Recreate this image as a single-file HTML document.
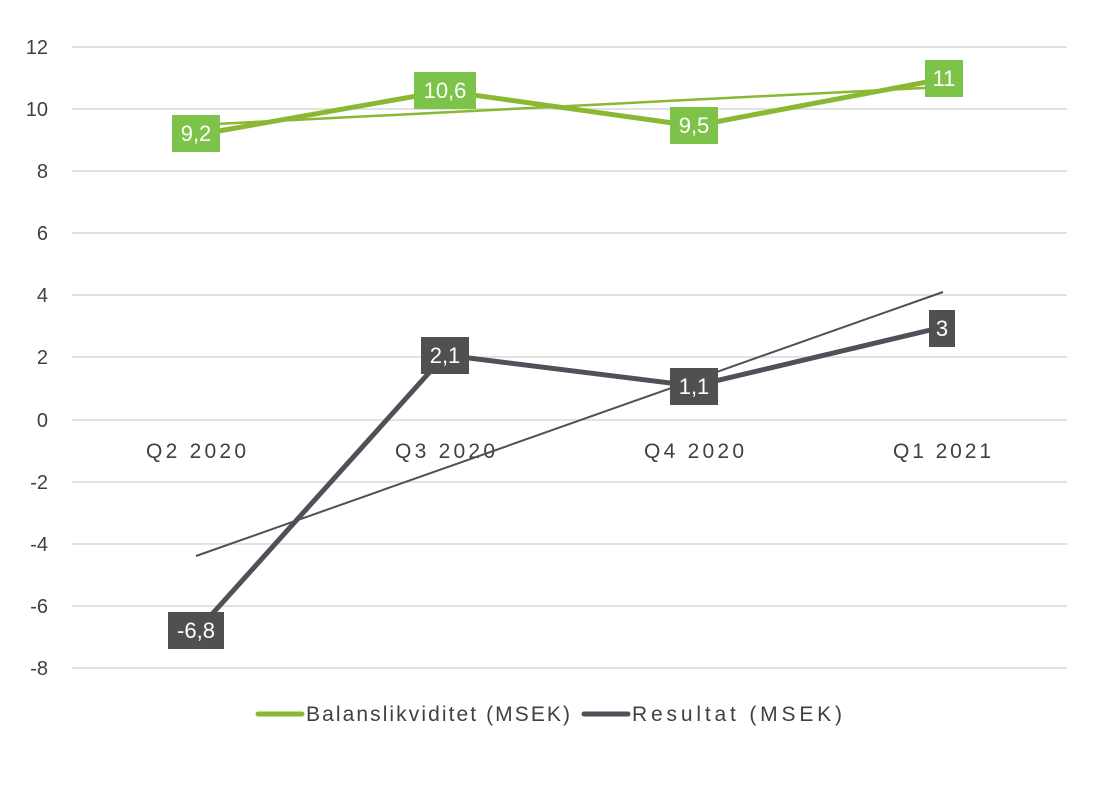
<!DOCTYPE html>
<html><head><meta charset="utf-8"><style>body{margin:0;background:#fff}</style></head><body>
<svg width="1098" height="784" xmlns="http://www.w3.org/2000/svg" font-family="Liberation Sans, sans-serif">
<g stroke="#d9d9d9" stroke-width="1.5">
<line x1="72" x2="1067" y1="47" y2="47"/><line x1="72" x2="1067" y1="109" y2="109"/><line x1="72" x2="1067" y1="171" y2="171"/><line x1="72" x2="1067" y1="233" y2="233"/><line x1="72" x2="1067" y1="295" y2="295"/><line x1="72" x2="1067" y1="357" y2="357"/><line x1="72" x2="1067" y1="420" y2="420"/><line x1="72" x2="1067" y1="482" y2="482"/><line x1="72" x2="1067" y1="544" y2="544"/><line x1="72" x2="1067" y1="606" y2="606"/><line x1="72" x2="1067" y1="668" y2="668"/>
</g>
<g font-size="20" fill="#404040" text-anchor="end">
<text x="48" y="54">12</text><text x="48" y="116">10</text><text x="48" y="178">8</text><text x="48" y="240">6</text><text x="48" y="302">4</text><text x="48" y="364">2</text><text x="48" y="427">0</text><text x="48" y="489">-2</text><text x="48" y="551">-4</text><text x="48" y="613">-6</text><text x="48" y="675">-8</text>
</g>
<g font-size="21" fill="#404040">
<text x="146" y="458" textLength="100">Q2 2020</text><text x="395" y="458" textLength="100">Q3 2020</text><text x="644" y="458" textLength="100">Q4 2020</text><text x="893" y="458" textLength="98">Q1 2021</text>
</g>
<line x1="196" y1="125" x2="943" y2="87" stroke="#8ab833" stroke-width="2.5"/>
<line x1="196" y1="556" x2="943" y2="292" stroke="#4f5159" stroke-width="2"/>
<polyline points="196,135 445,91 694,126 943,79" fill="none" stroke="#8ab833" stroke-width="5"/>
<polyline points="196,632 445,355 694,386 943,327" fill="none" stroke="#4f5159" stroke-width="5"/>
<g font-size="22" fill="#fff" text-anchor="middle">
<rect x="172" y="115" width="48" height="37" fill="#7dc34a"/><text x="196" y="141">9,2</text>
<rect x="414" y="72" width="62" height="37" fill="#7dc34a"/><text x="445" y="98">10,6</text>
<rect x="670" y="107" width="48" height="37" fill="#7dc34a"/><text x="694" y="133">9,5</text>
<rect x="925" y="60" width="38" height="37" fill="#7dc34a"/><text x="944" y="86">11</text>
<rect x="168" y="612" width="56" height="37" fill="#505050"/><text x="196" y="638">-6,8</text>
<rect x="421" y="337" width="48" height="37" fill="#505050"/><text x="445" y="363">2,1</text>
<rect x="670" y="368" width="48" height="37" fill="#505050"/><text x="694" y="394">1,1</text>
<rect x="929" y="310" width="26" height="37" fill="#505050"/><text x="942" y="336">3</text>
</g>
<line x1="258" y1="714" x2="302" y2="714" stroke="#8ab833" stroke-width="5" stroke-linecap="round"/>
<text x="306" y="721" font-size="21" fill="#404040" textLength="264">Balanslikviditet (MSEK)</text>
<line x1="584" y1="714" x2="628" y2="714" stroke="#4f5159" stroke-width="5" stroke-linecap="round"/>
<text x="632" y="721" font-size="21" fill="#404040" textLength="210">Resultat (MSEK)</text>
</svg>
</body></html>
